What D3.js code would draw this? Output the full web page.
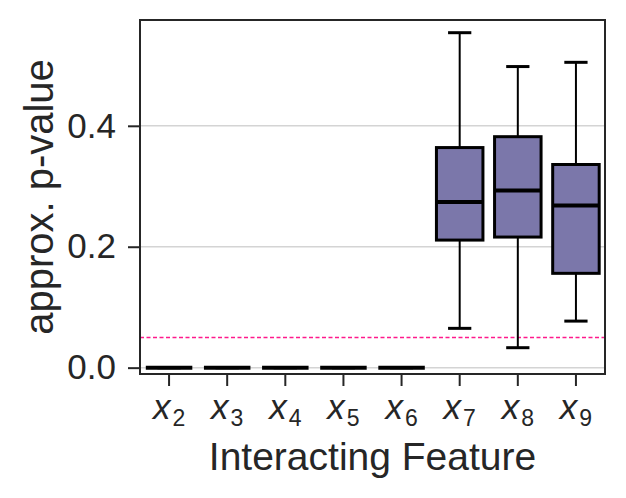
<!DOCTYPE html>
<html>
<head>
<meta charset="utf-8">
<script src="https://cdn.jsdelivr.net/npm/d3@7"></script>
<style>
  body { margin: 0; background: #fff; }
  text { font-family: "Liberation Sans", Arial, sans-serif; fill: #262626; }
</style>
</head>
<body>
<div id="chart"></div>
<script>
// Data
var features = ["2", "3", "4", "5", "6", "7", "8", "9"];
var whiskerLow  = [0, 0, 0, 0, 0, 0.065, 0.033, 0.077];
var q1          = [0, 0, 0, 0, 0, 0.211, 0.216, 0.156];
var medians     = [0, 0, 0, 0, 0, 0.274, 0.293, 0.268];
var q3          = [0, 0, 0, 0, 0, 0.364, 0.382, 0.336];
var whiskerHigh = [0, 0, 0, 0, 0, 0.554, 0.498, 0.505];
var yTicks = [0.0, 0.2, 0.4];
var threshold = 0.05;

var svgWidth = 626, svgHeight = 498;
var plot = {left: 140, right: 605, top: 20, bottom: 374};

var svg = d3.select("#chart")
    .append("svg")
        .attr("width", svgWidth)
        .attr("height", svgHeight);

var x = d3.scaleBand()
    .domain(features)
    .range([plot.left, plot.right])
    .paddingInner(0.2)
    .paddingOuter(0.1);

var y = d3.scaleLinear()
    .domain([-0.0105, 0.575])
    .range([plot.bottom, plot.top]);

var boxes = features.map(function(f, i) {
    return {f: f, lo: whiskerLow[i], q1: q1[i], med: medians[i], q3: q3[i], hi: whiskerHigh[i]};
});

// grid lines
svg.selectAll(".grid")
    .data(yTicks)
    .enter()
    .append("line")
        .attr("x1", plot.left)
        .attr("x2", plot.right)
        .attr("y1", function(d) { return y(d); })
        .attr("y2", function(d) { return y(d); })
        .style("stroke", "#d4d4d4")
        .style("stroke-width", 1.5);

// significance threshold
svg.append("line")
    .attr("x1", plot.left)
    .attr("x2", plot.right)
    .attr("y1", Math.round(y(threshold)) + 0.5)
    .attr("y2", Math.round(y(threshold)) + 0.5)
    .style("stroke", "#ff1a8c")
    .style("stroke-width", 1.5)
    .style("stroke-dasharray", "4,2.5");

var g = svg.selectAll(".box")
    .data(boxes)
    .enter()
    .append("g");

var cx = function(d) { return x(d.f) + x.bandwidth() / 2; };
var capW = x.bandwidth() / 2;

// whiskers
g.append("line")
    .attr("x1", cx).attr("x2", cx)
    .attr("y1", function(d) { return y(d.hi); })
    .attr("y2", function(d) { return y(d.q3); })
    .style("stroke", "#000").style("stroke-width", 2);
g.append("line")
    .attr("x1", cx).attr("x2", cx)
    .attr("y1", function(d) { return y(d.q1); })
    .attr("y2", function(d) { return y(d.lo); })
    .style("stroke", "#000").style("stroke-width", 2);

// caps
g.selectAll(".cap")
    .data(function(d) { return [{d: d, v: d.hi}, {d: d, v: d.lo}]; })
    .enter()
    .append("line")
        .attr("x1", function(c) { return cx(c.d) - capW / 2; })
        .attr("x2", function(c) { return cx(c.d) + capW / 2; })
        .attr("y1", function(c) { return y(c.v); })
        .attr("y2", function(c) { return y(c.v); })
        .style("stroke", "#000").style("stroke-width", 3);

// boxes
g.append("rect")
    .attr("x", function(d) { return x(d.f); })
    .attr("y", function(d) { return y(d.q3); })
    .attr("width", x.bandwidth())
    .attr("height", function(d) { return y(d.q1) - y(d.q3); })
    .style("fill", "#7b77aa")
    .style("stroke", "#000")
    .style("stroke-width", 3);

// medians
g.append("line")
    .attr("x1", function(d) { return x(d.f); })
    .attr("x2", function(d) { return x(d.f) + x.bandwidth(); })
    .attr("y1", function(d) { return y(d.med); })
    .attr("y2", function(d) { return y(d.med); })
    .style("stroke", "#000").style("stroke-width", 4);

// frame
svg.append("rect")
    .attr("x", plot.left)
    .attr("y", plot.top)
    .attr("width", plot.right - plot.left)
    .attr("height", plot.bottom - plot.top)
    .style("fill", "none")
    .style("stroke", "#262626")
    .style("stroke-width", 2);

// y axis
var yAxis = svg.append("g")
    .attr("transform", "translate(" + plot.left + ",0)")
    .call(d3.axisLeft(y).tickValues(yTicks).tickFormat(d3.format(".1f")).tickSize(12).tickPadding(12));
yAxis.select(".domain").remove();
yAxis.selectAll("line").style("stroke", "#262626").style("stroke-width", 2);
yAxis.selectAll("text")
    .attr("font-size", "35px")
    .style("font-family", "'Liberation Sans', Arial, sans-serif")
    .style("fill", "#262626");

// x axis
var xAxis = svg.append("g")
    .attr("transform", "translate(0," + plot.bottom + ")")
    .call(d3.axisBottom(x).tickSize(12));
xAxis.select(".domain").remove();
xAxis.selectAll("line").style("stroke", "#262626").style("stroke-width", 2);
xAxis.selectAll("text").each(function(d) {
    var t = d3.select(this);
    t.text("")
        .attr("y", 45)
        .attr("dy", null)
        .attr("font-size", "35px")
        .style("font-family", "'Liberation Sans', Arial, sans-serif")
        .style("fill", "#262626");
    t.append("tspan").style("font-style", "italic").text("x");
    t.append("tspan").attr("font-size", "23px").attr("dx", 2).attr("dy", 6.5).text(d);
});

// axis labels
svg.append("text")
    .attr("x", (plot.left + plot.right) / 2)
    .attr("y", 470)
    .attr("text-anchor", "middle")
    .attr("font-size", "39px")
    .text("Interacting Feature");

svg.append("text")
    .attr("transform", "translate(53," + (plot.top + plot.bottom) / 2 + ") rotate(-90)")
    .attr("text-anchor", "middle")
    .attr("font-size", "40px")
    .text("approx. p-value");
</script>
</body>
</html>
